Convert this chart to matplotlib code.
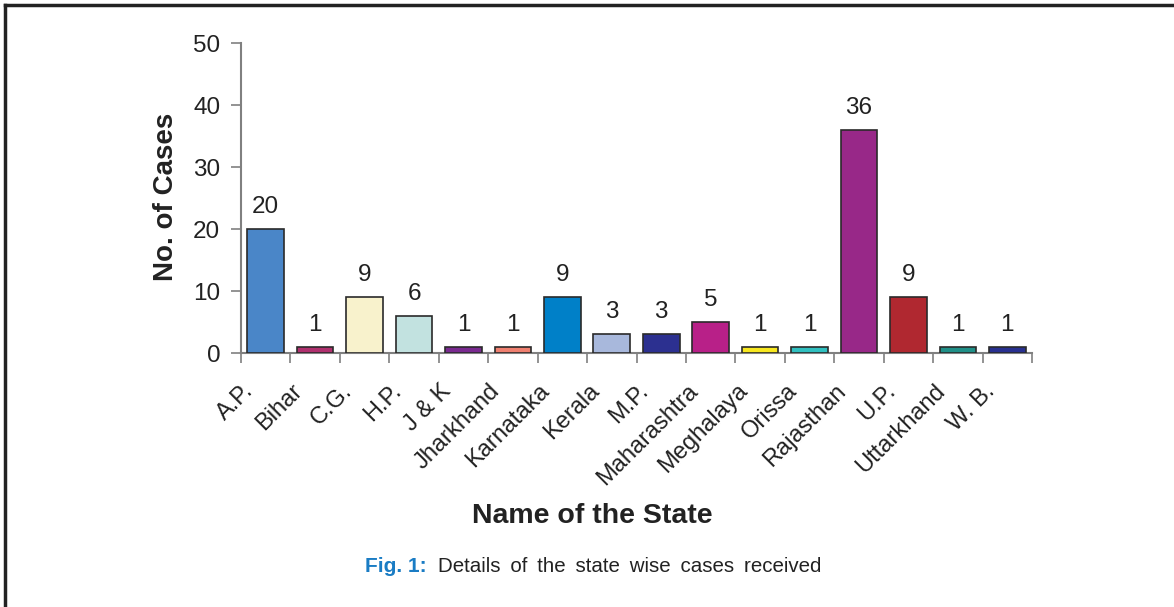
import matplotlib
matplotlib.use('Agg')
import matplotlib.pyplot as plt
from matplotlib.lines import Line2D
import matplotlib.transforms as mtransforms
import numpy as np

plt.rcParams['font.family'] = ['Liberation Sans', 'DejaVu Sans']

states = ['A.P.', 'Bihar', 'C.G.', 'H.P.', 'J & K', 'Jharkhand', 'Karnataka',
          'Kerala', 'M.P.', 'Maharashtra', 'Meghalaya', 'Orissa', 'Rajasthan',
          'U.P.', 'Uttarkhand', 'W. B.']
cases = [20, 1, 9, 6, 1, 1, 9, 3, 3, 5, 1, 1, 36, 9, 1, 1]
bar_colors = ['#4A86C8', '#B0306E', '#F8F2CC', '#C2E2E0', '#7A2A90', '#F08070',
              '#0080C8', '#A8B8DC', '#2C3090', '#B82088', '#F8E820', '#30C0C0',
              '#982888', '#B02830', '#209088', '#283090']

fig = plt.figure(figsize=(11.74, 6.07), dpi=100)
ax = fig.add_axes([241 / 1174, 1 - 353 / 607, (1032 - 241) / 1174, (353 - 43) / 607])

x = np.arange(len(states))
ax.bar(x, cases, width=0.74, color=bar_colors, edgecolor='#2a2a2a', linewidth=1.2, zorder=3)

for xi, v in zip(x, cases):
    ax.annotate(str(v), (xi, v), xytext=(0, 8), textcoords='offset points',
                ha='center', va='bottom', fontsize=17.5, color='#222222')

ax.set_xlim(-0.5, len(states) - 0.5)
ax.set_ylim(0, 50)
ax.set_yticks(range(0, 51, 10))
ax.tick_params(axis='y', labelsize=17.5, length=7, width=1.2, color='#808080',
               labelcolor='#222222', pad=8)

ax.set_xticks(x)
ax.set_xticklabels(states, rotation=45, ha='right', va='center', rotation_mode='anchor',
                   fontsize=17, color='#222222')
ax.tick_params(axis='x', which='major', length=0, pad=25)
shift = mtransforms.ScaledTranslation(-16 / 100, 0, fig.dpi_scale_trans)
for lbl in ax.get_xticklabels():
    lbl.set_transform(lbl.get_transform() + shift)
ax.set_xticks(np.arange(-0.5, len(states), 1), minor=True)
ax.tick_params(axis='x', which='minor', length=7, width=1.2, color='#808080')

for side in ['top', 'right']:
    ax.spines[side].set_visible(False)
for side in ['left', 'bottom']:
    ax.spines[side].set_color('#808080')
    ax.spines[side].set_linewidth(1.5)

fig.text(166 / 1174, 1 - 197 / 607, 'No. of Cases', rotation=90, ha='center', va='center',
         fontsize=20, fontweight='bold', color='#222222')
fig.text(592 / 1174, 1 - 516 / 607, 'Name of the State', ha='center', va='center',
         fontsize=20.5, fontweight='bold', color='#222222')

fig.text(365 / 1174, 1 - 566 / 607, 'Fig. 1:', ha='left', va='center',
         fontsize=15, fontweight='bold', color='#1a7cc4')
fig.text(438 / 1174, 1 - 566 / 607,
         'Details \u2009of \u2009the \u2009state \u2009wise \u2009cases \u2009received',
         ha='left', va='center', fontsize=14.8, color='#222222')

# frame lines (top and left)
fig.add_artist(Line2D([5 / 1174, 1], [1 - 4.5 / 607, 1 - 4.5 / 607],
                      transform=fig.transFigure, color='#222222', linewidth=2.5))
fig.add_artist(Line2D([5 / 1174, 5 / 1174], [0, 1 - 4.5 / 607],
                      transform=fig.transFigure, color='#222222', linewidth=2.5))

fig.savefig('out.png', dpi=100)
